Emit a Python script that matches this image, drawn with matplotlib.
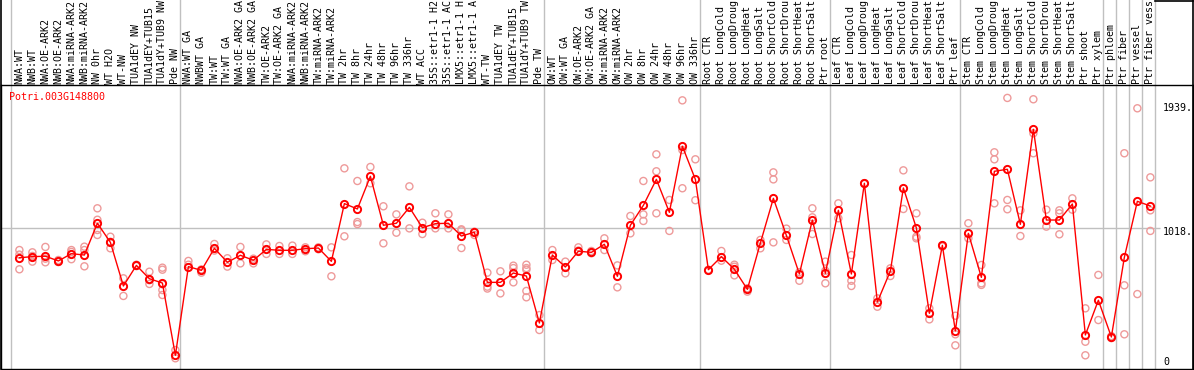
import matplotlib
matplotlib.use("Agg")
import matplotlib.pyplot as plt
from matplotlib.lines import Line2D
import matplotlib.transforms as mtransforms

# sample names, left to right
labels = [
    "NWA:WT", "NWB:WT", "NWA:OE-ARK2", "NWB:OE-ARK2", "NWA:miRNA-ARK2", "NWB:miRNA-ARK2",
    "NW 0hr", "WT H2O", "WT-NW", "TUA1dEY NW", "TUA1dEY+TUB15", "TUA1dY+TUB9 NW", "Pde NW",
    "NWA:WT GA", "NWBWT GA", "TW:WT", "TW:WT GA", "NWA:OE-ARK2 GA", "NWB:OE-ARK2 GA",
    "TW:OE-ARK2", "TW:OE-ARK2 GA", "NWA:miRNA-ARK2", "NWB:miRNA-ARK2", "TW:miRNA-ARK2",
    "TW:miRNA-ARK2", "TW 2hr", "TW 8hr", "TW 24hr", "TW 48hr", "TW 96hr", "TW 336hr",
    "WT ACC", "35S::etr1-1 H2", "35S::etr1-1 AC", "LMX5::etr1-1 H", "LMX5::etr1-1 A",
    "WT-TW", "TUA1dEY TW", "TUA1dEY+TUB15", "TUA1dY+TUB9 TW", "Pde TW",
    "OW:WT", "OW:WT GA", "OW:OE-ARK2", "OW:OE-ARK2 GA", "OW:miRNA-ARK2", "OW:miRNA-ARK2",
    "OW 2hr", "OW 8hr", "OW 24hr", "OW 48hr", "OW 96hr", "OW 336hr",
    "Root CTR", "Root LongCold", "Root LongDroug", "Root LongHeat", "Root LongSalt",
    "Root ShortCold", "Root ShortDrou", "Root ShortHeat", "Root ShortSalt", "Ptr root",
    "Leaf CTR", "Leaf LongCold", "Leaf LongDroug", "Leaf LongHeat", "Leaf LongSalt",
    "Leaf ShortCold", "Leaf ShortDrou", "Leaf ShortHeat", "Leaf ShortSalt", "Ptr leaf",
    "Stem CTR", "Stem LongCold", "Stem LongDroug", "Stem LongHeat", "Stem LongSalt",
    "Stem ShortCold", "Stem ShortDrou", "Stem ShortHeat", "Stem ShortSalt",
    "Ptr shoot", "Ptr xylem", "Ptr phloem", "Ptr fiber", "Ptr vessel", "Ptr fiber vess",
]

# mean expression per sample
means = [
    797, 805, 808, 773, 827, 817, 1053, 911, 587, 740, 641, 609, 72,
    731, 703, 867, 763, 815, 778, 859, 852, 852, 864, 869, 770,
    1199, 1159, 1402, 1038, 1053, 1171, 1020, 1050, 1053, 958, 986,
    614, 614, 683, 661, 312,
    817, 728, 845, 837, 897, 659, 1038, 1186, 1379, 1134, 1625, 1379,
    708, 805, 711, 562, 906, 1238, 963, 676, 1077, 681,
    1149, 676, 1350, 468, 698, 1315, 1018, 384, 889, 253,
    978, 651, 1439, 1454, 1045, 1751, 1077, 1077, 1196,
    223, 481, 208, 800, 1216, 1181,
]

# replicate values per sample
reps = [
    [854, 711, 820], [837, 768, 810], [877, 763, 790], [780, 765], [854, 786, 840],
    [879, 854, 733], [1164, 1079, 1003, 966], [953, 867, 915], [644, 513], [745, 735],
    [693, 602, 630], [723, 708, 557, 520, 600], [111, 50],
    [773, 745], [686, 710], [899, 850], [793, 731], [877, 755], [755, 790],
    [896, 825], [884, 825], [887, 825], [874, 845], [874, 860], [874, 659],
    [1461, 956], [1367, 1062, 1047], [1471, 1350], [1179, 904], [1119, 983],
    [1327, 1015], [1057, 973], [1127, 1015], [1119, 1015], [1008, 869, 1000],
    [966, 990], [686, 582, 568], [696, 532], [738, 614, 720],
    [745, 708, 550, 503, 720], [371, 260],
    [854, 780], [768, 681], [874, 850], [847, 830], [941, 854], [740, 577],
    [1107, 978], [1367, 1119, 1070], [1565, 1439, 1127], [1226, 996],
    [1966, 1597, 1313], [1528, 1224],
    [708], [847, 775], [745, 666, 730], [545, 570], [929, 867],
    [1431, 1379, 911], [1013, 929], [626, 690], [1164, 1097, 973], [768, 607, 700],
    [1201, 1090], [817, 626, 587], [1350, 1345], [495, 433], [718, 661],
    [1446, 1159], [1127, 953, 941], [421, 339], [889, 880], [366, 228, 146],
    [1053, 941], [743, 607, 595], [1580, 1528, 1201], [1984, 1226, 1157],
    [1149, 958], [1974, 1721, 1573], [1154, 1028], [1149, 1127, 971], [1238, 1154],
    [421, 173, 72], [669, 334], [200, 215], [1573, 592, 228], [1907, 527],
    [1394, 1149, 996],
]

# index of first sample in each group (separator lines)
group_starts = [0, 13, 41, 53, 63, 73, 84, 85, 86, 87, 88]
y_ticks = [0, 1018, 1939]
y_tick_labels = ["0", "1018.", "1939."]
gene = "Potri.003G148800"

W, H = 1194, 370
fig = plt.figure(figsize=(W / 100, H / 100), dpi=100)
# plot box in pixels: x 1..1193, y 85..369 (from top)
ax = fig.add_axes([1 / W, 1 / H, 1192 / W, 284 / H])
ax.set_xlim(-1.415, 90.28)
ax.set_ylim(-29.7, 2080)
ax.set_xticks([])
ax.set_yticks([])
for s in ax.spines.values():
    s.set_linewidth(1.0)
    s.set_color("black")

mono = "DejaVu Sans Mono"
fs = 7.2
grey = "#c0c0c0"
ext = (284 + 85) / 284  # stretch lines up through the label area

for g in group_starts:
    ax.axvline(g - 0.62, ymin=0, ymax=ext, color=grey, lw=1.0, clip_on=False, zorder=1)
ax.hlines(1018, -1.415, 87.74, color=grey, lw=1.0, zorder=1)

# frame lines reaching the top of the figure
ax.axvline(-1.415, ymin=0, ymax=ext, color="black", lw=1.2, clip_on=False)
ax.axvline(90.28, ymin=0, ymax=ext, color="black", lw=1.2, clip_on=False)
fig.add_artist(Line2D([1155 / W, 1193 / W], [1 - 0.6 / H, 1 - 0.6 / H], color="black", lw=1.2))

x = list(range(len(means)))
rx, ry = [], []
for i, vals in enumerate(reps):
    for v in vals:
        rx.append(i)
        ry.append(v)
ax.scatter(rx, ry, s=26, facecolors="none", edgecolors="#ee9a9a", linewidths=1.0, zorder=3)
ax.plot(x, means, color="red", lw=1.0, marker="o", markersize=5.2, mfc="none",
        mec="red", mew=1.4, zorder=4)

# sample labels above plot
trans = mtransforms.blended_transform_factory(ax.transData, ax.transAxes)
for i, lab in enumerate(labels):
    ax.annotate(lab, xy=(i, 1), xycoords=trans, xytext=(0, 1.5), textcoords="offset pixels",
                rotation=90, ha="center", va="bottom", family=mono, fontsize=fs,
                annotation_clip=False)

ax.annotate(gene, xy=(0, 1), xycoords="axes fraction", xytext=(8, -12),
            textcoords="offset pixels", ha="left", va="center", family=mono,
            fontsize=fs, color="red")

for v, t in zip(y_ticks, y_tick_labels):
    dy = 3 if v == 0 else -4
    ax.annotate(t, xy=(1, v), xycoords=("axes fraction", "data"), xytext=(-30, dy),
                textcoords="offset pixels", ha="left", va="center", family=mono,
                fontsize=fs, color="black")

fig.savefig("out.png", dpi=100)
